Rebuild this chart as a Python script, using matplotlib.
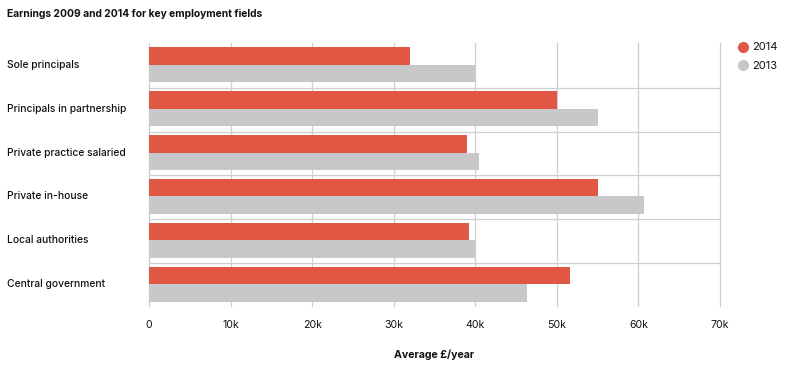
import matplotlib
matplotlib.use("Agg")
import matplotlib.pyplot as plt
import matplotlib.transforms as mtransforms
from matplotlib.lines import Line2D

categories = ["Sole principals", "Principals in partnership", "Private practice salaried",
              "Private in-house", "Local authorities", "Central government"]
values_2014 = [32.0, 50.0, 39.0, 55.1, 39.2, 51.6]
values_2013 = [40.0, 55.1, 40.4, 60.7, 40.0, 46.4]
tick_values = [0, 10, 20, 30, 40, 50, 60, 70]
tick_labels = ["0", "10k", "20k", "30k", "40k", "50k", "60k", "70k"]
series_names = ["2014", "2013"]

RED = "#E05843"
GREY = "#C8C8CA"
GRID = "#CFCFCF"
TXT = "#111111"
FONT = ["Inter", "DejaVu Sans"]
plt.rcParams['font.family'] = FONT

W, H = 800, 369
fig = plt.figure(figsize=(W / 100, H / 100), dpi=100)
ax = fig.add_axes([149 / W, 1 - 306 / H, (720 - 149) / W, (306 - 43) / H])

n = len(categories)
ys = list(range(n))
bh = 0.4
ax.barh([y - bh / 2 for y in ys], values_2014, height=bh, color=RED, zorder=3, linewidth=0)
ax.barh([y + bh / 2 for y in ys], values_2013, height=bh, color=GREY, zorder=3, linewidth=0)

ax.set_xlim(0, 70)
ax.set_ylim(n - 0.5, -0.5)

for x in tick_values:
    ax.axvline(x, color=GRID, lw=0.9, zorder=1, clip_on=False)
for i in range(n - 1):
    ax.plot([0, 70], [i + 0.52, i + 0.52], color=GRID, lw=0.9, zorder=2, clip_on=False)

for s in ax.spines.values():
    s.set_visible(False)
ax.set_xticks(tick_values)
ax.set_xticklabels(tick_labels, fontsize=7.6, color=TXT)
ax.tick_params(axis="x", length=0, pad=10)
ax.set_yticks([])

trans = mtransforms.blended_transform_factory(fig.transFigure, ax.transData)
for y, c in zip(ys, categories):
    ax.text(7 / W, y, c, transform=trans, fontsize=7.4, color=TXT, fontweight="medium",
            ha="left", va="center")

ax.set_xlabel("Average £/year", fontsize=7.6, fontweight="bold", color=TXT, labelpad=14)

fig.text(7 / W, 1 - 14 / H, "Earnings 2009 and 2014 for key employment fields",
         fontsize=7.4, fontweight="bold", color=TXT, ha="left", va="center")

handles = [Line2D([], [], marker="o", ls="", color=RED, markersize=7),
           Line2D([], [], marker="o", ls="", color=GREY, markersize=7)]
fig.legend(handles, series_names, loc="upper left", bbox_to_anchor=(732 / W, 1 - 38 / H),
           frameon=False, fontsize=8, handletextpad=0.2, labelspacing=0.75,
           handlelength=1.2, borderaxespad=0, labelcolor=TXT)

fig.savefig("out.png", dpi=100)
